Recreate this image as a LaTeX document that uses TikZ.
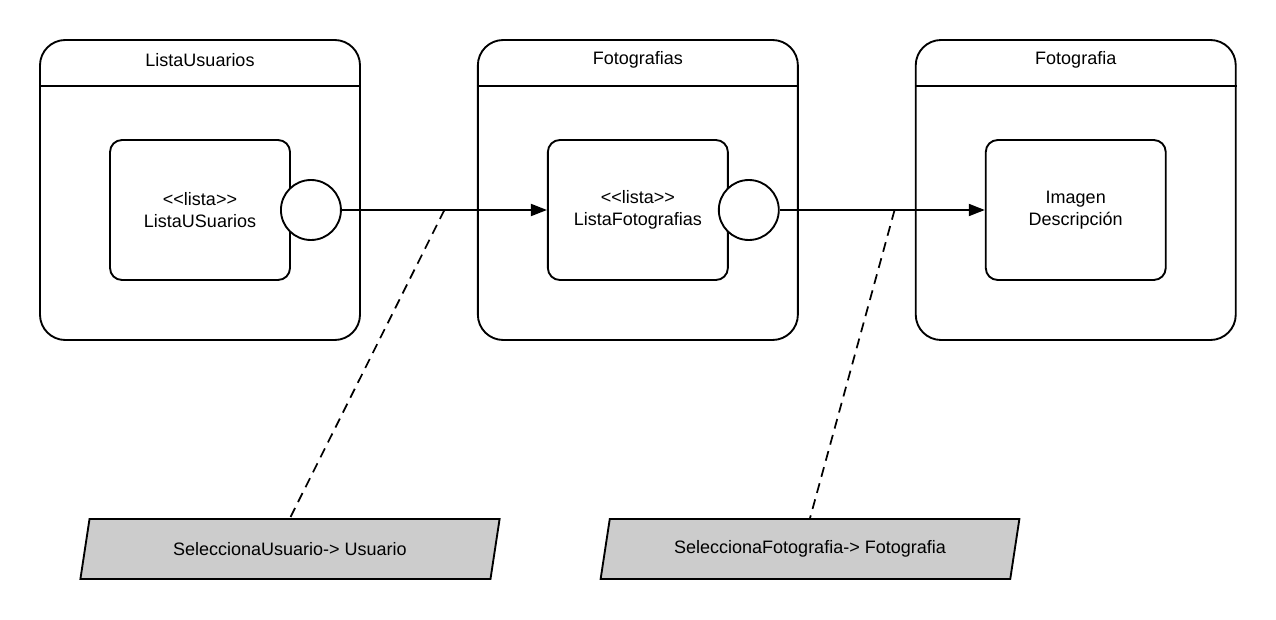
\documentclass[tikz,border=0pt]{standalone}
\usepackage{fontspec}
\setmainfont{Liberation Sans}
\usetikzlibrary{positioning, shapes.geometric, arrows.meta}

\begin{document}
\begin{tikzpicture}[x=0.75pt, y=-0.75pt, every node/.style={font=\fontsize{13.5}{16.5}\selectfont}]

  \tikzstyle{state}=[draw, line width=1.4pt, rounded corners=19pt, minimum width=240pt, minimum height=225pt, inner sep=0pt]
  \tikzstyle{inner}=[draw, line width=1.4pt, rounded corners=9pt, minimum width=135pt, minimum height=105pt, align=center]
  \tikzstyle{pin}=[draw, line width=1.4pt, circle, fill=white, minimum size=45pt, inner sep=0pt]
  \tikzstyle{event}=[draw, line width=1.4pt, fill=black!20, trapezium, trapezium left angle=76, trapezium right angle=104, trapezium stretches=true, minimum width=315pt, minimum height=45pt]
  \tikzstyle{flow}=[line width=1.4pt, -{Triangle[length=12pt, width=9pt]}]
  \tikzstyle{note}=[line width=1.3pt, dash pattern=on 7.5pt off 5pt]

  \useasboundingbox (0,0) rectangle (1276,620);

  \node [state] (S-users) at (200,190) {};
  \node [state, right = 87pt of S-users] (S-photos) {};
  \node [state, right = 87pt of S-photos] (S-photo) {};

  % headers
  \foreach \s/\t in {S-users/ListaUsuarios, S-photos/Fotografias, S-photo/Fotografia} {
    \node at ([yshift=-15.75pt]\s.north) {\t};
    \draw [line width=1.4pt] ([yshift=-35.25pt]\s.north west) -- ([yshift=-35.25pt]\s.north east);
  }

  \node [inner] (L-users) at ([yshift=-15pt]S-users.center) {<\kern0pt<lista>\kern0pt> \\ ListaUSuarios};
  \node [inner] (L-photos) at ([yshift=-15pt]S-photos.center) {<\kern0pt<lista>\kern0pt> \\ ListaFotografias};
  \node [inner] (photo) at ([yshift=-15pt]S-photo.center) {Imagen \\ Descripción};

  \node [pin, xshift=15pt] (P-users) at (L-users.east) {};
  \node [pin, xshift=15pt] (P-photos) at (L-photos.east) {};

  \node [event] (E-user) at (290,549) {SeleccionaUsuario-> Usuario};
  \node [event] (E-photo) at (810,549) {SeleccionaFotografia-> Fotografia};

  \draw [flow] (P-users) -- (L-photos) coordinate[pos=.5] (d-user);
  \draw [flow] (P-photos) -- (photo) coordinate[pos=.56] (d-photo);

  \draw [note] (d-user) -- (E-user.north);
  \draw [note] (d-photo) -- (E-photo.north);
\end{tikzpicture}
\end{document}
